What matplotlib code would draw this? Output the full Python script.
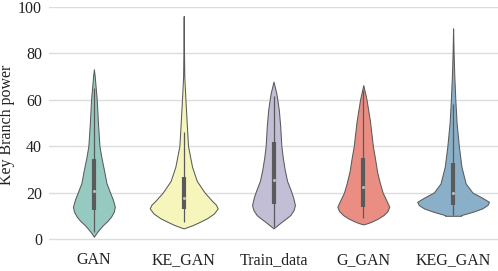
import numpy as np
import matplotlib
matplotlib.use("Agg")
import matplotlib.pyplot as plt
import seaborn as sns

categories = ["GAN", "KE_GAN", "Train_data", "G_GAN", "KEG_GAN"]

# violin profiles: value coordinates and relative density
gan_y = [1.0, 2.0, 3.1, 4.5, 6.0, 7.8, 9.6, 11.8, 13.9, 17.0, 20.3, 24.0, 29.7, 35.0, 40.0, 50.0, 60.0, 65.0, 70.0, 73.0]
gan_d = [0.0, 1.5, 3.3, 6.0, 9.0, 13.5, 17.0, 19.8, 20.8, 18.8, 15.8, 12.5, 10.0, 7.5, 5.5, 4.0, 2.8, 1.8, 0.8, 0.0]

ke_y = [4.6, 5.2, 6.0, 7.4, 8.9, 11.0, 13.2, 14.8, 16.5, 20.0, 25.0, 31.1, 40.0, 48.3, 60.0, 69.8, 80.0, 95.9]
ke_d = [0.0, 4.0, 9.0, 16.0, 23.0, 30.0, 33.8, 32.0, 28.0, 20.8, 13.0, 8.3, 4.3, 3.2, 1.7, 0.6, 0.3, 0.0]

tr_y = [4.6, 5.8, 7.5, 9.0, 10.3, 12.5, 14.6, 18.0, 21.1, 25.0, 29.7, 35.0, 40.0, 48.3, 55.5, 60.0, 62.7, 67.7]
tr_d = [0.0, 3.5, 8.3, 13.0, 16.7, 20.0, 21.3, 19.5, 17.0, 13.5, 11.2, 9.2, 7.8, 6.7, 5.3, 3.8, 2.8, 0.0]

gg_y = [6.3, 6.8, 7.5, 8.8, 10.3, 12.0, 13.9, 17.0, 20.0, 24.0, 29.0, 35.0, 40.0, 50.5, 60.0, 66.2]
gg_d = [0.0, 4.0, 8.3, 14.5, 20.0, 24.0, 25.8, 22.5, 19.2, 16.5, 13.7, 11.5, 9.5, 6.7, 3.2, 0.0]

keg_y = [10.0, 10.3, 11.8, 13.2, 14.6, 16.0, 18.0, 20.0, 23.9, 31.1, 40.0, 49.8, 60.0, 70.0, 80.0, 90.6]
keg_d = [8.0, 8.0, 20.0, 29.0, 34.0, 35.7, 28.0, 19.2, 12.5, 8.3, 5.7, 3.5, 2.2, 1.2, 0.5, 0.0]

# inner box statistics: whisker low, q1, median, q3, whisker high
whisk_low = [3.1, 7.4, 5.3, 8.9, 10.5]
q1 = [12.5, 12.8, 15.1, 13.9, 14.6]
medians = [20.5, 17.5, 25.4, 22.5, 20.0]
q3 = [34.3, 26.8, 41.9, 34.7, 32.6]
whisk_high = [64.8, 46.2, 61.5, 64.0, 58.0]

profiles = [(gan_y, gan_d), (ke_y, ke_d), (tr_y, tr_d), (gg_y, gg_d), (keg_y, keg_d)]

base = sns.color_palette("Set3", 5)
colors = [sns.desaturate(c, 0.75) for c in base]

plt.rcParams['font.family'] = ['Liberation Serif', 'DejaVu Serif']

fig = plt.figure(figsize=(4.98, 2.71), dpi=100)
ax = fig.add_axes([0.0984, 0.1007, 0.9016, 0.8753])

max_d = max(max(d) for _, d in profiles)
scale = 0.4 / max_d
vpstats = []
widths = []
for (ys, ds), med in zip(profiles, medians):
    ys = np.asarray(ys, float)
    ds = np.asarray(ds, float)
    vpstats.append(dict(coords=ys, vals=ds, mean=med, median=med, min=ys.min(), max=ys.max()))
    widths.append(2 * ds.max() * scale)

pos = np.arange(len(categories))
parts = ax.violin(vpstats, positions=pos, widths=widths, showmeans=False,
                  showextrema=False, showmedians=False)
for body, c in zip(parts['bodies'], colors):
    body.set_facecolor(c)
    body.set_edgecolor('#5a5a5a')
    body.set_linewidth(0.75)
    body.set_alpha(1)
    body.set_zorder(2)
    body.set_joinstyle('round')

ax.vlines(pos, whisk_low, whisk_high, color='#5a5a5a', lw=0.9, zorder=3)
ax.vlines(pos, q1, q3, color='#5a5a5a', lw=3.0, zorder=3)
ax.scatter(pos, medians, s=5, color='#bbbbbb', zorder=4, linewidths=0)

ax.set_xlim(-0.5, 4.5)
ax.set_ylim(-2, 100)
ax.set_yticks([0, 20, 40, 60, 80, 100])
ax.set_xticks(pos)
ax.set_xticklabels(categories)
ax.yaxis.grid(True, color='#dcdcdc', lw=1.0)
ax.set_axisbelow(True)
for s in ax.spines.values():
    s.set_visible(False)
ax.tick_params(axis='both', length=0, labelsize=11.5, colors='#222222')
ax.tick_params(axis='x', pad=6)
ax.tick_params(axis='y', pad=5)
ax.set_ylabel("Key Branch power", fontsize=11.5, color='#222222')
ax.yaxis.set_label_coords(-0.076, 0.5)

fig.savefig("out.png", dpi=100)
